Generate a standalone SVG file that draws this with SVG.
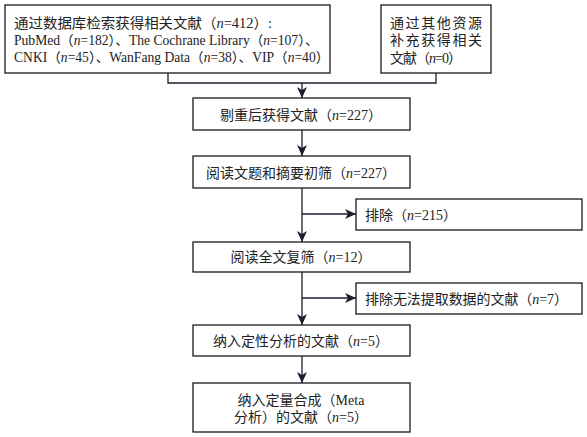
<svg xmlns="http://www.w3.org/2000/svg" width="587" height="437" viewBox="0 0 587 437">
<defs>
<marker id="ah" markerWidth="12" markerHeight="12" viewBox="0 0 12 12" refX="11" refY="6" orient="auto" markerUnits="userSpaceOnUse">
<path d="M0,1 L11,6 L0,11 L3,6 Z" fill="#1e1e30"/>
</marker>
<style>
.box{fill:#fff;stroke:#1a1a1a;stroke-width:1.3}
.t{font-family:"Liberation Serif","Noto Sans CJK SC",serif;font-size:14px;fill:#222}
.s{font-size:13.6px}
.c{text-anchor:middle}
.i{font-style:italic}
.ln{fill:none;stroke:#1e1e30;stroke-width:1.3}
</style>
</defs>
<rect width="587" height="437" fill="#fff"/>
<g id="connectors">
<path class="ln" d="M168,73 V83 H436 V73"/>
<path class="ln" d="M302,83 V98" marker-end="url(#ah)"/>
<path class="ln" d="M302,130 V156" marker-end="url(#ah)"/>
<path class="ln" d="M302,188 V242" marker-end="url(#ah)"/>
<path class="ln" d="M302,214 H356" marker-end="url(#ah)"/>
<path class="ln" d="M302,272 V325" marker-end="url(#ah)"/>
<path class="ln" d="M302,298 H356" marker-end="url(#ah)"/>
<path class="ln" d="M302,356 V383" marker-end="url(#ah)"/>
</g>
<g id="n1">
<rect class="box" x="5" y="5" width="325" height="68"/>
<text class="t" x="14" y="28" textLength="258" lengthAdjust="spacingAndGlyphs">通过数据库检索获得相关文献（<tspan class="i">n</tspan>=412）:</text>
<text class="t s" x="14" y="45">PubMed（<tspan class="i">n</tspan>=182）、The Cochrane Library（<tspan class="i">n</tspan>=107）、</text>
<text class="t s" x="14" y="62">CNKI（<tspan class="i">n</tspan>=45）、WanFang Data（<tspan class="i">n</tspan>=38）、VIP（<tspan class="i">n</tspan>=40）</text>
</g>
<g id="n2">
<rect class="box" x="381" y="5" width="110" height="68"/>
<text class="t" x="390" y="28" textLength="92">通过其他资源</text>
<text class="t" x="390" y="45" textLength="92">补充获得相关</text>
<text class="t" x="390" y="63" textLength="72">文献（<tspan class="i">n</tspan>=0）</text>
</g>
<g id="n3">
<rect class="box" x="193" y="98" width="217" height="32"/>
<text class="t c" x="301" y="120">剔重后获得文献（<tspan class="i">n</tspan>=227）</text>
</g>
<g id="n4">
<rect class="box" x="193" y="156" width="217" height="32"/>
<text class="t c" x="301" y="178">阅读文题和摘要初筛（<tspan class="i">n</tspan>=227）</text>
</g>
<g id="n5">
<rect class="box" x="356" y="199" width="226" height="31"/>
<text class="t" x="365" y="220">排除（<tspan class="i">n</tspan>=215）</text>
</g>
<g id="n6">
<rect class="box" x="193" y="242" width="217" height="30"/>
<text class="t c" x="301" y="262">阅读全文复筛（<tspan class="i">n</tspan>=12）</text>
</g>
<g id="n7">
<rect class="box" x="356" y="283" width="226" height="31"/>
<text class="t" x="365" y="304" textLength="203">排除无法提取数据的文献（<tspan class="i">n</tspan>=7）</text>
</g>
<g id="n8">
<rect class="box" x="193" y="325" width="217" height="31"/>
<text class="t c" x="301" y="346">纳入定性分析的文献（<tspan class="i">n</tspan>=5）</text>
</g>
<g id="n9">
<rect class="box" x="193" y="383" width="217" height="49"/>
<text class="t c" x="301" y="405">纳入定量合成（Meta</text>
<text class="t c" x="301" y="422">分析）的文献（<tspan class="i">n</tspan>=5）</text>
</g>
</svg>
